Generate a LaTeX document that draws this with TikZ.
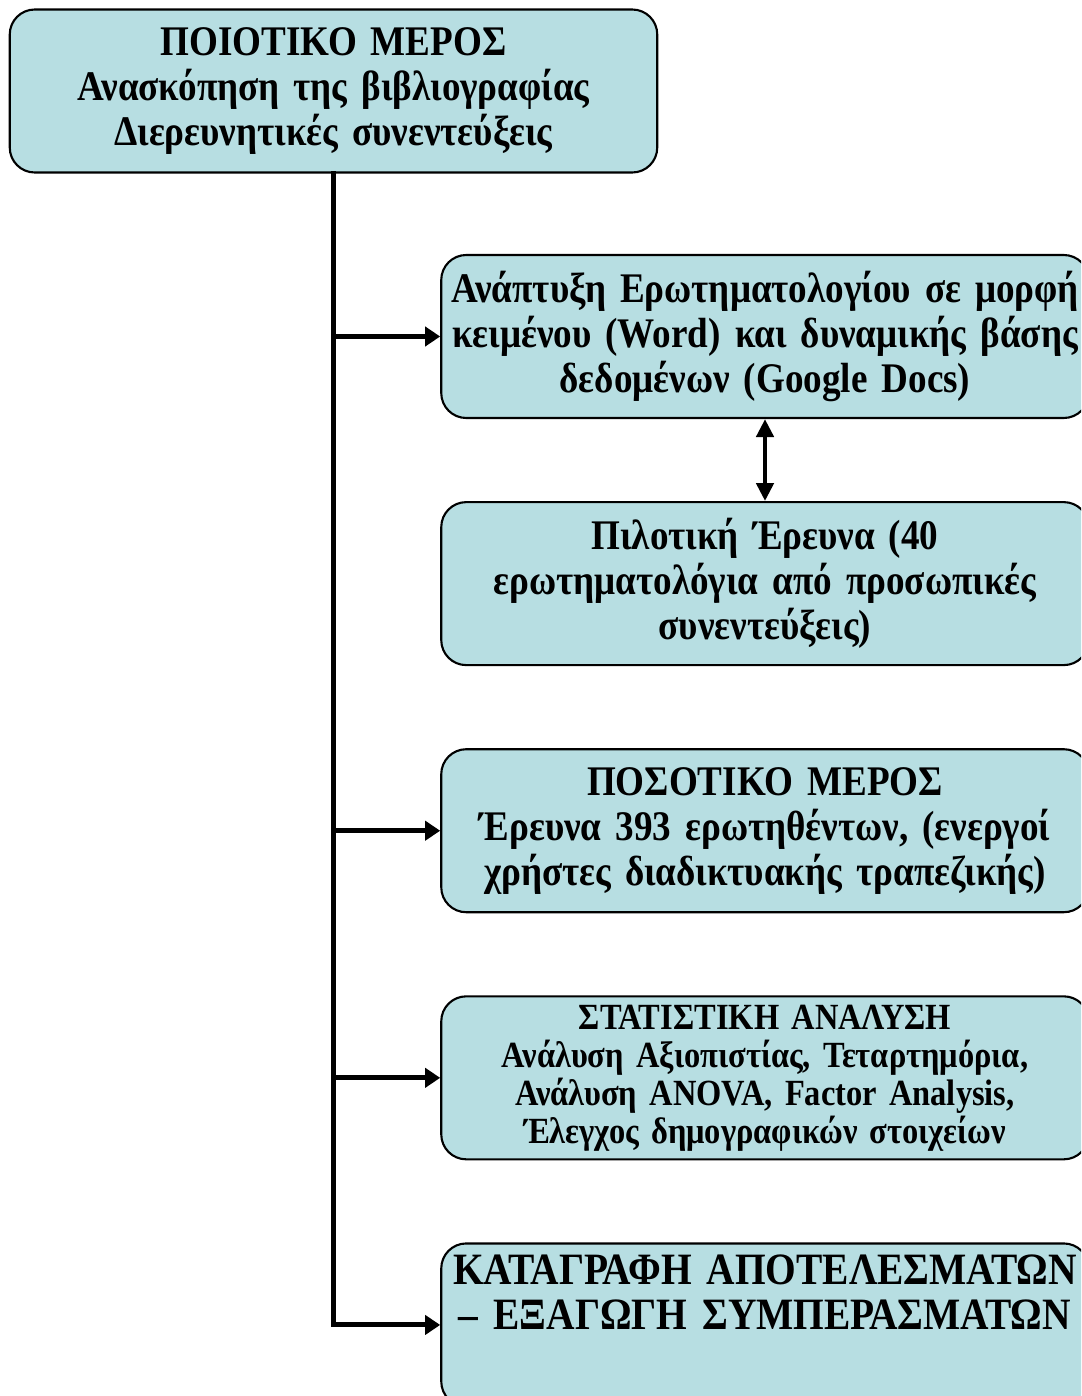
\documentclass[tikz,border=0pt]{standalone}
\usepackage{fontspec}
\setmainfont{Liberation Serif}[FakeStretch=0.88]
\usetikzlibrary{positioning, arrows.meta}
\definecolor{boxblue}{RGB}{183,222,226}

\begin{document}
\begin{tikzpicture}[
    mybox/.style={draw, line width=1.2pt, rounded corners=0.5cm, fill=boxblue, minimum width=12.95cm, minimum height=3.26cm, text width=12.75cm, inner xsep=0.1cm, align=center, font=\bfseries\fontsize{24}{25.6}\selectfont},
    myarrow/.style={line width=2.8pt, -{Triangle[length=0.3cm, width=0.38cm]}},
    node distance=1.64cm]

\clip (0,0) rectangle (21.62,-27.92);

\node[mybox](top) at (6.67,-1.82){ΠΟΙΟΤΙΚΟ ΜΕΡΟΣ\\ Ανασκόπηση της βιβλιογραφίας\\ Διερευνητικές συνεντεύξεις};
\node[mybox](quest) at (15.3,-6.73){Ανάπτυξη Ερωτηματολογίου σε μορφή\\ κειμένου (Word) και δυναμικής βάσης\\ δεδομένων (Google Docs)};
\node[mybox, below=of quest](pilot){Πιλοτική Έρευνα (40\\ ερωτηματολόγια από προσωπικές\\ συνεντεύξεις)};
\node[mybox, below=of pilot](quant){ΠΟΣΟΤΙΚΟ ΜΕΡΟΣ\\ Έρευνα 393 ερωτηθέντων, (ενεργοί\\ χρήστες διαδικτυακής τραπεζικής)};
\node[mybox, below=of quant, font=\bfseries\fontsize{21}{21.6}\selectfont](stat){ΣΤΑΤΙΣΤΙΚΗ ΑΝΑΛΥΣΗ\\ Ανάλυση Αξιοπιστίας, Τεταρτημόρια,\\ Ανάλυση ANOVA, Factor Analysis,\\ Έλεγχος δημογραφικών στοιχείων};
\node[mybox, below=of stat, text depth=2.2cm, font=\bfseries\fontsize{25.5}{25.6}\selectfont](result){ΚΑΤΑΓΡΑΦΗ ΑΠΟΤΕΛΕΣΜΑΤΩΝ\\ – ΕΞΑΓΩΓΗ ΣΥΜΠΕΡΑΣΜΑΤΩΝ};

\draw[line width=2.8pt, line cap=rect] (top.south) -- (top.south |- result.west);
\foreach \n in {quest, quant, stat, result}
    \draw[myarrow] (top.south |- \n.west) -- (\n.west);
\draw[line width=2.6pt, {Triangle[length=0.36cm, width=0.34cm]}-{Triangle[length=0.36cm, width=0.34cm]}] (quest) -- (pilot);
\end{tikzpicture}
\end{document}
